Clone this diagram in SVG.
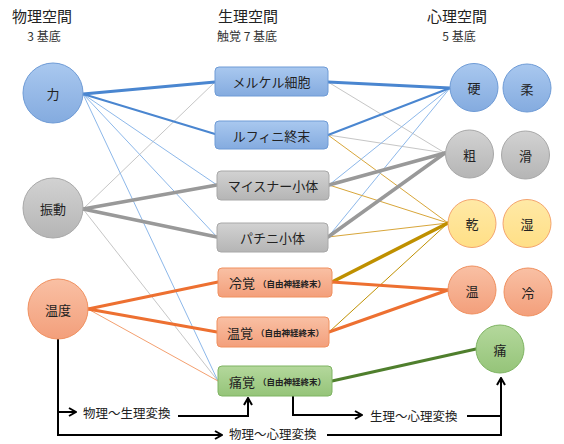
<svg xmlns="http://www.w3.org/2000/svg" width="564" height="444" viewBox="0 0 564 444">
<defs>
<linearGradient id="gBlue" x1="0" y1="0" x2="0" y2="1"><stop offset="0" stop-color="#a9c8ef"/><stop offset="1" stop-color="#84abdf"/></linearGradient>
<linearGradient id="gGray" x1="0" y1="0" x2="0" y2="1"><stop offset="0" stop-color="#d2d2d2"/><stop offset="1" stop-color="#b5b5b5"/></linearGradient>
<linearGradient id="gOrange" x1="0" y1="0" x2="0" y2="1"><stop offset="0" stop-color="#f9c0a4"/><stop offset="1" stop-color="#f39f7b"/></linearGradient>
<linearGradient id="gYellow" x1="0" y1="0" x2="0" y2="1"><stop offset="0" stop-color="#ffe9a6"/><stop offset="1" stop-color="#ffdf86"/></linearGradient>
<linearGradient id="gGreen" x1="0" y1="0" x2="0" y2="1"><stop offset="0" stop-color="#b4d89c"/><stop offset="1" stop-color="#95c479"/></linearGradient>
<marker id="arr" viewBox="0 0 10 10" refX="9" refY="5" markerWidth="10" markerHeight="10" markerUnits="userSpaceOnUse" orient="auto"><path d="M2,1 L9,5 L2,9" fill="none" stroke="#000" stroke-width="2"/></marker>
</defs>
<style>
text{font-family:"Noto Sans CJK JP","Noto Sans",sans-serif;fill:#222;}
.h{font-size:15px;text-anchor:middle;}
.s{font-size:12px;text-anchor:middle;fill:#333;}
.l{font-size:13px;text-anchor:middle;dominant-baseline:central;}
.lb{font-size:13px;dominant-baseline:central;}
.sm{font-size:8.5px;font-weight:bold;}
.ct{font-size:12.5px;dominant-baseline:central;}
.blue{fill:url(#gBlue);stroke:#6e9bd6;stroke-width:1;}
.gray{fill:url(#gGray);stroke:#a8a8a8;stroke-width:1;}
.orange{fill:url(#gOrange);stroke:#f0905f;stroke-width:1;}
.yellow{fill:url(#gYellow);stroke:#f4a46e;stroke-width:1;}
.green{fill:url(#gGreen);stroke:#7fb463;stroke-width:1;}
.c line{stroke-linecap:round;}
.bT{stroke:#4a86d0;stroke-width:3;}
.bM{stroke:#4a86d0;stroke-width:2;}
.bt{stroke:#8db8ea;stroke-width:1;}
.gT{stroke:#999;stroke-width:3.5;}
.gt{stroke:#c6c6c6;stroke-width:1;}
.oT{stroke:#ed7031;stroke-width:3;}
.ot{stroke:#f4a070;stroke-width:1;}
.yt{stroke:#d8a63a;stroke-width:1;}
.yT{stroke:#bf9000;stroke-width:3.5;}
.ydt{stroke:#bf9000;stroke-width:1;}
.grT{stroke:#4f7f2d;stroke-width:3;}
.arw{fill:none;stroke:#000;stroke-width:2;}
</style>
<rect width="564" height="444" fill="#fff"/>

<g id="headers">
<text class="h" x="42" y="22">物理空間</text>
<text class="s" x="44" y="41">3 基底</text>
<text class="h" x="248" y="22">生理空間</text>
<text class="s" x="247" y="41">触覚 7 基底</text>
<text class="h" x="457" y="22">心理空間</text>
<text class="s" x="459" y="41">5 基底</text>
</g>

<g id="connectors" class="c">
<line class="gt" x1="83" y1="209" x2="215" y2="82"/>
<line class="gt" x1="83" y1="209" x2="218" y2="381"/>
<line class="bt" x1="83" y1="94" x2="217" y2="185"/>
<line class="bt" x1="83" y1="94" x2="217" y2="237"/>
<line class="bt" x1="83" y1="94" x2="218" y2="381"/>
<line class="ot" x1="88" y1="309" x2="218" y2="381"/>
<line class="bT" x1="83" y1="94" x2="215" y2="82"/>
<line class="bM" x1="83" y1="94" x2="215" y2="134"/>
<line class="gT" x1="83" y1="209" x2="217" y2="185"/>
<line class="gT" x1="83" y1="209" x2="217" y2="237"/>
<line class="oT" x1="88" y1="309" x2="218" y2="282"/>
<line class="oT" x1="88" y1="309" x2="217" y2="332"/>

<line class="gt" x1="328" y1="82" x2="445" y2="153"/>
<line class="gt" x1="328" y1="135" x2="445" y2="153"/>
<line class="yt" x1="328" y1="135" x2="448" y2="223"/>
<line class="bt" x1="329" y1="185" x2="450" y2="88"/>
<line class="bt" x1="328" y1="237" x2="450" y2="88"/>
<line class="yt" x1="329" y1="185" x2="448" y2="223"/>
<line class="yt" x1="328" y1="237" x2="448" y2="223"/>
<line class="ydt" x1="329" y1="332" x2="448" y2="223"/>
<line class="bT" x1="328" y1="82" x2="450" y2="88"/>
<line class="bM" x1="328" y1="135" x2="450" y2="88"/>
<line class="gT" x1="329" y1="185" x2="445" y2="153"/>
<line class="gT" x1="328" y1="237" x2="445" y2="153"/>
<line class="yT" x1="332" y1="282" x2="448" y2="223"/>
<line class="oT" x1="332" y1="282" x2="448" y2="290"/>
<line class="oT" x1="329" y1="332" x2="448" y2="290"/>
<line class="grT" x1="332" y1="381" x2="476" y2="349"/>

<path class="arw" d="M58,339 V435 H222" marker-end="url(#arr)"/>
<path class="arw" d="M327,435 H501 V378" marker-end="url(#arr)"/>
<path class="arw" d="M58,412 H76" marker-end="url(#arr)"/>
<path class="arw" d="M178,416 H248 V398" marker-end="url(#arr)"/>
<path class="arw" d="M293,396 V415 H362" marker-end="url(#arr)"/>
<path class="arw" d="M467,416 H501"/>
</g>

<g id="conv-labels">
<text class="ct" x="83" y="412">物理～生理変換</text>
<text class="ct" x="229" y="433">物理～心理変換</text>
<text class="ct" x="370" y="415">生理～心理変換</text>
</g>

<g id="n-chikara"><circle class="blue" cx="53" cy="93" r="30"/><text class="l" x="53" y="93">力</text></g>
<g id="n-shindo"><circle class="gray" cx="53" cy="208" r="30"/><text class="l" x="53" y="208">振動</text></g>
<g id="n-ondo"><circle class="orange" cx="58" cy="309" r="30"/><text class="l" x="58" y="309">温度</text></g>

<g id="n-merkel"><rect class="blue" x="215" y="67" width="113" height="29" rx="4"/><text class="l" x="271.5" y="81.5">メルケル細胞</text></g>
<g id="n-ruffini"><rect class="blue" x="215" y="121" width="113" height="28" rx="4"/><text class="l" x="271.5" y="135">ルフィニ終末</text></g>
<g id="n-meissner"><rect class="gray" x="217" y="171" width="112" height="29" rx="4"/><text class="l" x="273" y="185.5">マイスナー小体</text></g>
<g id="n-pacini"><rect class="gray" x="217" y="223" width="111" height="29" rx="4"/><text class="l" x="272.5" y="237.5">パチニ小体</text></g>
<g id="n-reikaku"><rect class="orange" x="218" y="268" width="114" height="29" rx="4"/><text class="lb" x="229" y="282.5">冷覚<tspan class="sm" dx="3">（自由神経終末）</tspan></text></g>
<g id="n-onkaku"><rect class="orange" x="217" y="317" width="112" height="30" rx="4"/><text class="lb" x="227" y="332">温覚<tspan class="sm" dx="3">（自由神経終末）</tspan></text></g>
<g id="n-tsukaku"><rect class="green" x="218" y="366" width="114" height="30" rx="4"/><text class="lb" x="229" y="381">痛覚<tspan class="sm" dx="3">（自由神経終末）</tspan></text></g>

<g id="n-kata"><circle class="blue" cx="474" cy="87.5" r="24"/><text class="l" x="474" y="87.5">硬</text></g>
<g id="n-ju"><circle class="blue" cx="527" cy="88" r="24"/><text class="l" x="527" y="88">柔</text></g>
<g id="n-so"><circle class="gray" cx="469.5" cy="154" r="24"/><text class="l" x="469.5" y="154">粗</text></g>
<g id="n-katsu"><circle class="gray" cx="525.5" cy="155" r="24"/><text class="l" x="525.5" y="155">滑</text></g>
<g id="n-kan"><circle class="yellow" cx="472" cy="223.5" r="24"/><text class="l" x="472" y="223.5">乾</text></g>
<g id="n-shitsu"><circle class="yellow" cx="527" cy="223.5" r="24"/><text class="l" x="527" y="223.5">湿</text></g>
<g id="n-on"><circle class="orange" cx="472" cy="290" r="24"/><text class="l" x="472" y="290">温</text></g>
<g id="n-rei"><circle class="orange" cx="528" cy="292" r="24"/><text class="l" x="528" y="292">冷</text></g>
<g id="n-tsu"><circle class="green" cx="500" cy="349" r="24"/><text class="l" x="500" y="349">痛</text></g>
</svg>
